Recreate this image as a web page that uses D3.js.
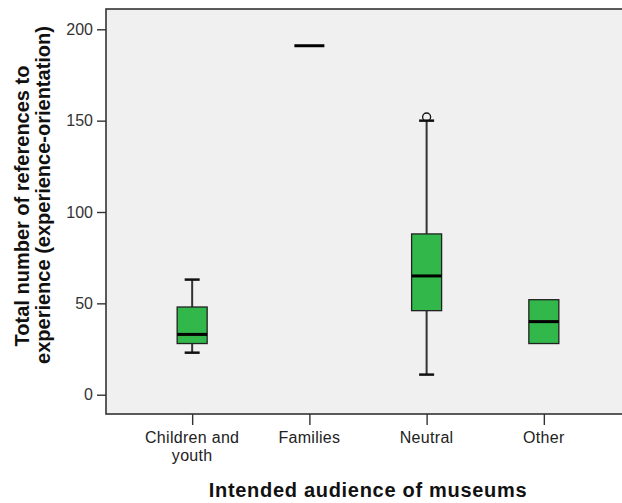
<!DOCTYPE html>
<html>
<head>
<meta charset="utf-8">
<script src="https://cdn.jsdelivr.net/npm/d3@7"></script>
<style>
  html, body { margin: 0; padding: 0; background: #ffffff; }
  svg { display: block; }
  text { font-family: Arial, "Liberation Sans", sans-serif; }
</style>
</head>
<body>
<svg id="chart" width="622" height="503"></svg>
<script>
// Intended audience categories and their box-plot statistics
const categories = ["Children and youth", "Families", "Neutral", "Other"];
const categoryLines = [["Children and", "youth"], ["Families"], ["Neutral"], ["Other"]];
const lowWhisker  = [23, 191, 11, 28];
const q1          = [28, 191, 46, 28];
const median      = [33, 191, 65, 40];
const q3          = [48, 191, 88, 52];
const highWhisker = [63, 191, 150, 52];
const outliers    = [[], [], [152], []];
const yTicks      = [0, 50, 100, 150, 200];

const svg = d3.select("#chart");

const plot = { left: 106, top: 9, right: 630, bottom: 414 };

const x = d3.scalePoint()
  .domain(categories)
  .range([plot.left, plot.right])
  .padding(0.735);

const y = d3.scaleLinear()
  .domain([0, 200])
  .range([394.7, 29.3]);

// plot background and frame
svg.append("rect")
  .attr("x", plot.left)
  .attr("y", plot.top)
  .attr("width", plot.right - plot.left)
  .attr("height", plot.bottom - plot.top)
  .attr("fill", "#f0f0f0")
  .attr("stroke", "#333")
  .attr("stroke-width", 1.6);

// y axis
const yAxis = svg.append("g")
  .attr("transform", `translate(${plot.left},0)`)
  .call(d3.axisLeft(y).tickValues(yTicks).tickSize(9).tickPadding(4).tickFormat(d3.format("d")));
yAxis.select(".domain").remove();
yAxis.selectAll(".tick line").attr("stroke", "#333").attr("stroke-width", 1.4);
yAxis.selectAll(".tick text")
  .attr("fill", "#333")
  .style("font-size", "16px")
  .style("font-family", "Arial, 'Liberation Sans', sans-serif");

// x axis
const xAxis = svg.append("g")
  .attr("transform", `translate(0,${plot.bottom})`)
  .call(d3.axisBottom(x).tickSize(11).tickFormat(""));
xAxis.select(".domain").remove();
xAxis.selectAll(".tick line").attr("stroke", "#333").attr("stroke-width", 1.4);

// category labels (wrapped)
const catLabels = svg.append("g");
categories.forEach((c, i) => {
  const t = catLabels.append("text")
    .attr("x", x(c))
    .attr("y", 443)
    .attr("text-anchor", "middle")
    .attr("fill", "#222")
    .style("font-size", "16px")
    .style("letter-spacing", "0.3px");
  categoryLines[i].forEach((line, j) => {
    t.append("tspan")
      .attr("x", x(c))
      .attr("dy", j === 0 ? 0 : 17.5)
      .text(line);
  });
});

// axis titles
svg.append("text")
  .attr("x", (plot.left + plot.right) / 2)
  .attr("y", 497)
  .attr("text-anchor", "middle")
  .attr("fill", "#111")
  .style("font-size", "20px")
  .style("font-weight", "bold")
  .style("letter-spacing", "0.7px")
  .text("Intended audience of museums");

const yTitle = svg.append("g").attr("fill", "#111");
yTitle.append("text")
  .attr("transform", "translate(29,206) rotate(-90)")
  .attr("text-anchor", "middle")
  .style("font-size", "20px")
  .style("font-weight", "bold")
  .text("Total number of references to");
yTitle.append("text")
  .attr("transform", "translate(49.5,195) rotate(-90)")
  .attr("text-anchor", "middle")
  .style("font-size", "20px")
  .style("font-weight", "bold")
  .text("experience (experience-orientation)");

// boxes
const boxW = 30;
const capW = 15;
const boxes = svg.append("g");
categories.forEach((c, i) => {
  const cx = x(c);
  const g = boxes.append("g");
  const hasBox = q3[i] > q1[i];
  if (highWhisker[i] > q3[i]) {
    g.append("line").attr("x1", cx).attr("x2", cx)
      .attr("y1", y(q3[i])).attr("y2", y(highWhisker[i]))
      .attr("stroke", "#333").attr("stroke-width", 2);
    g.append("line").attr("x1", cx - capW / 2).attr("x2", cx + capW / 2)
      .attr("y1", y(highWhisker[i])).attr("y2", y(highWhisker[i]))
      .attr("stroke", "#111").attr("stroke-width", 2.5);
  }
  if (lowWhisker[i] < q1[i]) {
    g.append("line").attr("x1", cx).attr("x2", cx)
      .attr("y1", y(q1[i])).attr("y2", y(lowWhisker[i]))
      .attr("stroke", "#333").attr("stroke-width", 2);
    g.append("line").attr("x1", cx - capW / 2).attr("x2", cx + capW / 2)
      .attr("y1", y(lowWhisker[i])).attr("y2", y(lowWhisker[i]))
      .attr("stroke", "#111").attr("stroke-width", 2.5);
  }
  if (hasBox) {
    g.append("rect")
      .attr("x", cx - boxW / 2)
      .attr("y", y(q3[i]))
      .attr("width", boxW)
      .attr("height", y(q1[i]) - y(q3[i]))
      .attr("fill", "#31b74a")
      .attr("stroke", "#222")
      .attr("stroke-width", 1.3);
  }
  g.append("line")
    .attr("x1", cx - boxW / 2).attr("x2", cx + boxW / 2)
    .attr("y1", y(median[i])).attr("y2", y(median[i]))
    .attr("stroke", "#000").attr("stroke-width", 3);
  outliers[i].forEach(v => {
    g.append("circle")
      .attr("cx", cx).attr("cy", y(v)).attr("r", 4)
      .attr("fill", "none").attr("stroke", "#111").attr("stroke-width", 1.3);
  });
});
</script>
</body>
</html>
